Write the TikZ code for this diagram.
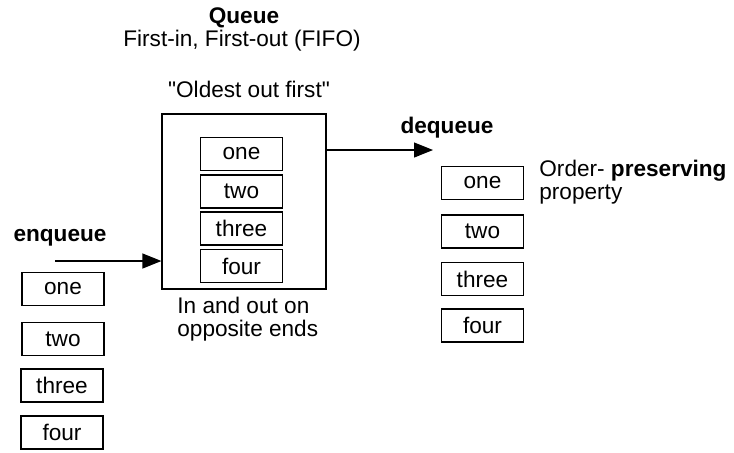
\documentclass[tikz,border=0pt]{standalone}
\usepackage{fontspec}
\setmainfont{Liberation Sans}
\usetikzlibrary{arrows.meta,positioning,calc}

\begin{document}
\begin{tikzpicture}[
  x=0.5pt, y=-0.5pt,
  every node/.style={font=\fontsize{11.3}{11.6}\selectfont},
  cell/.style={rectangle, draw, line width=0.6pt, minimum width=41pt,
               minimum height=16.5pt, inner sep=0pt},
  qbox/.style={rectangle, draw, line width=0.6pt, minimum width=82pt,
               minimum height=87.5pt, inner sep=0pt},
  caption/.style={inner sep=0pt, align=center},
  note/.style={inner sep=0pt, align=left, anchor=west},
  flow/.style={draw, line width=0.6pt, -{Triangle[length=9.5pt, width=7.5pt]}},
]
  \useasboundingbox (0,0) rectangle (734,452);

  % ===== Title =====
  \node[caption, font=\fontsize{11.3}{11.6}\selectfont\bfseries] (title) at (244, 18) {Queue};
  \node[caption] (fifo) at (242, 41) {First-in, First-out (FIFO)};

  % ===== Queue box =====
  \node[caption] (oldest) at (249, 89) {\textquotedbl Oldest out first\textquotedbl};
  \node[qbox] (queue) at (244, 201.5) {};
  \node[cell] (qone)   at (241.5, 154)   {one};
  \node[cell] (qtwo)   at (241.5, 191.5) {two};
  \node[cell] (qthree) at (241.5, 228.5) {three};
  \node[cell] (qfour)  at (241.5, 266)   {four};
  \node[note] (ends) at (177, 319.5) {In and out on\\opposite ends};

  % ===== Enqueue side =====
  \node[caption, font=\fontsize{11.3}{11.6}\selectfont\bfseries] (enq) at (60, 238) {enqueue};
  \coordinate (enqtail) at (55, 261);
  \draw[flow] (enqtail) -- (enqtail -| queue.west);

  \node[cell] (lone)   at (63, 289)   {one};
  \node[cell] (ltwo)   at (63, 339)   {two};
  \node[cell] (lthree) at (62, 385.5) {three};
  \node[cell] (lfour)  at (62, 432.5) {four};

  % ===== Dequeue side =====
  \node[caption, font=\fontsize{11.3}{11.6}\selectfont\bfseries] (deq) at (447, 128) {dequeue};
  \coordinate (deqtip) at (433, 150);
  \draw[flow] (deqtip -| queue.east) -- (deqtip);

  \node[cell] (rone)   at (482.5, 183)   {one};
  \node[cell] (rtwo)   at (482.5, 231.5) {two};
  \node[cell] (rthree) at (482.5, 279)   {three};
  \node[cell] (rfour)  at (482.5, 325.5) {four};
  \node[note] (order) at (539, 182) {Order- \textbf{preserving}\\property};

\end{tikzpicture}
\end{document}
